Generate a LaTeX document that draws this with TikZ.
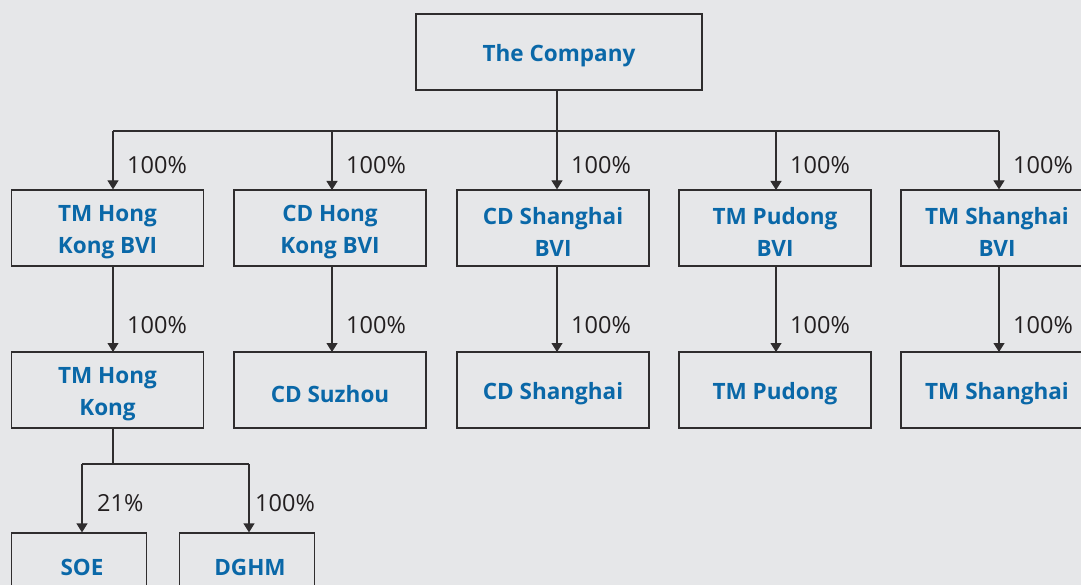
\documentclass[tikz,border=0pt]{standalone}
\usepackage{fontspec}
\setmainfont{Open Sans}
\usetikzlibrary{arrows.meta}
\definecolor{bg}{HTML}{E6E7E9}
\definecolor{ttl}{HTML}{0A68A8}
\definecolor{ln}{HTML}{2F2D2E}
\definecolor{pc}{HTML}{231F20}
\tikzset{
  entity/.style={draw=ln, line width=1.2pt, minimum width=192pt, minimum height=76pt, inner sep=0pt},
  etext/.style={align=center, text=ttl, font=\fontsize{22.5}{32}\selectfont\bfseries, inner sep=0pt, yshift=-4pt},
  link/.style={draw=ln, line width=1.2pt},
  arr/.style={link, -{Triangle[width=11pt,length=9pt]}},
  pct/.style={text=pc, font=\fontsize{23.5}{27}\selectfont, anchor=west, inner sep=0pt}
}
\begin{document}
\begin{tikzpicture}[x=1pt,y=-1pt]
\useasboundingbox (0,0) rectangle (1081,585);
\fill[bg] (0,0) rectangle (1081,585);
\begin{scope}
\clip (0,0) rectangle (1081,585);
\node[entity, minimum width=286pt, label={[etext]center:The Company}] (co) at (559,52) {};
\node[entity, label={[etext]center:TM Hong\\Kong BVI}] (a1) at (107.5,228) {};
\node[entity, label={[etext]center:CD Hong\\Kong BVI}] (a2) at (330,228) {};
\node[entity, label={[etext]center:CD Shanghai\\BVI}] (a3) at (553,228) {};
\node[entity, label={[etext]center:TM Pudong\\BVI}] (a4) at (775,228) {};
\node[entity, label={[etext]center:TM Shanghai\\BVI}] (a5) at (997,228) {};
\node[entity, label={[etext]center:TM Hong\\Kong}] (b1) at (107.5,390) {};
\node[entity, label={[etext]center:CD Suzhou}] (b2) at (330,390) {};
\node[entity, label={[etext]center:CD Shanghai}] (b3) at (553,390) {};
\node[entity, label={[etext]center:TM Pudong}] (b4) at (775,390) {};
\node[entity, label={[etext]center:TM Shanghai}] (b5) at (997,390) {};
\node[entity, minimum width=135pt] (c1) at (79,571) {};
\node[entity, minimum width=135pt] (c2) at (247,571) {};
\node[etext] (c1t) at (82,563) {SOE};
\node[etext] (c2t) at (250,563) {DGHM};

\coordinate (bus) at (557,131);
\coordinate (busL) at (113,131);
\coordinate (busR) at (999,131);
\draw[link] (co.south -| bus) -- (bus);
\draw[link] (busL) -- (busR);
\draw[arr] (busL) -- (busL |- a1.north);
\draw[arr] (332,131) -- (332,190);
\draw[arr] (bus) -- (bus |- a3.north);
\draw[arr] (776,131) -- (776,190);
\draw[arr] (busR) -- (busR |- a5.north);

\draw[arr] (113,266) -- (113,352);
\draw[arr] (332,266) -- (332,352);
\draw[arr] (557,266) -- (557,352);
\draw[arr] (776,266) -- (776,352);
\draw[arr] (999,266) -- (999,352);

\coordinate (sp) at (113,464);
\coordinate (spL) at (82,464);
\coordinate (spR) at (249,464);
\draw[link] (113,428) -- (sp);
\draw[link] (spL) -- (spR);
\draw[arr] (spL) -- (spL |- c1.north);
\draw[arr] (spR) -- (spR |- c2.north);

\foreach \x/\n in {113/p1,332/p2,557/p3,776/p4,999/p5}{
  \node[pct] (\n u) at (\x+14,165) {100\%};
  \node[pct] (\n l) at (\x+14,325) {100\%};
}
\node[pct] (q1) at (97,503) {21\%};
\node[pct] (q2) at (255,503) {100\%};
\end{scope}
\end{tikzpicture}
\end{document}
